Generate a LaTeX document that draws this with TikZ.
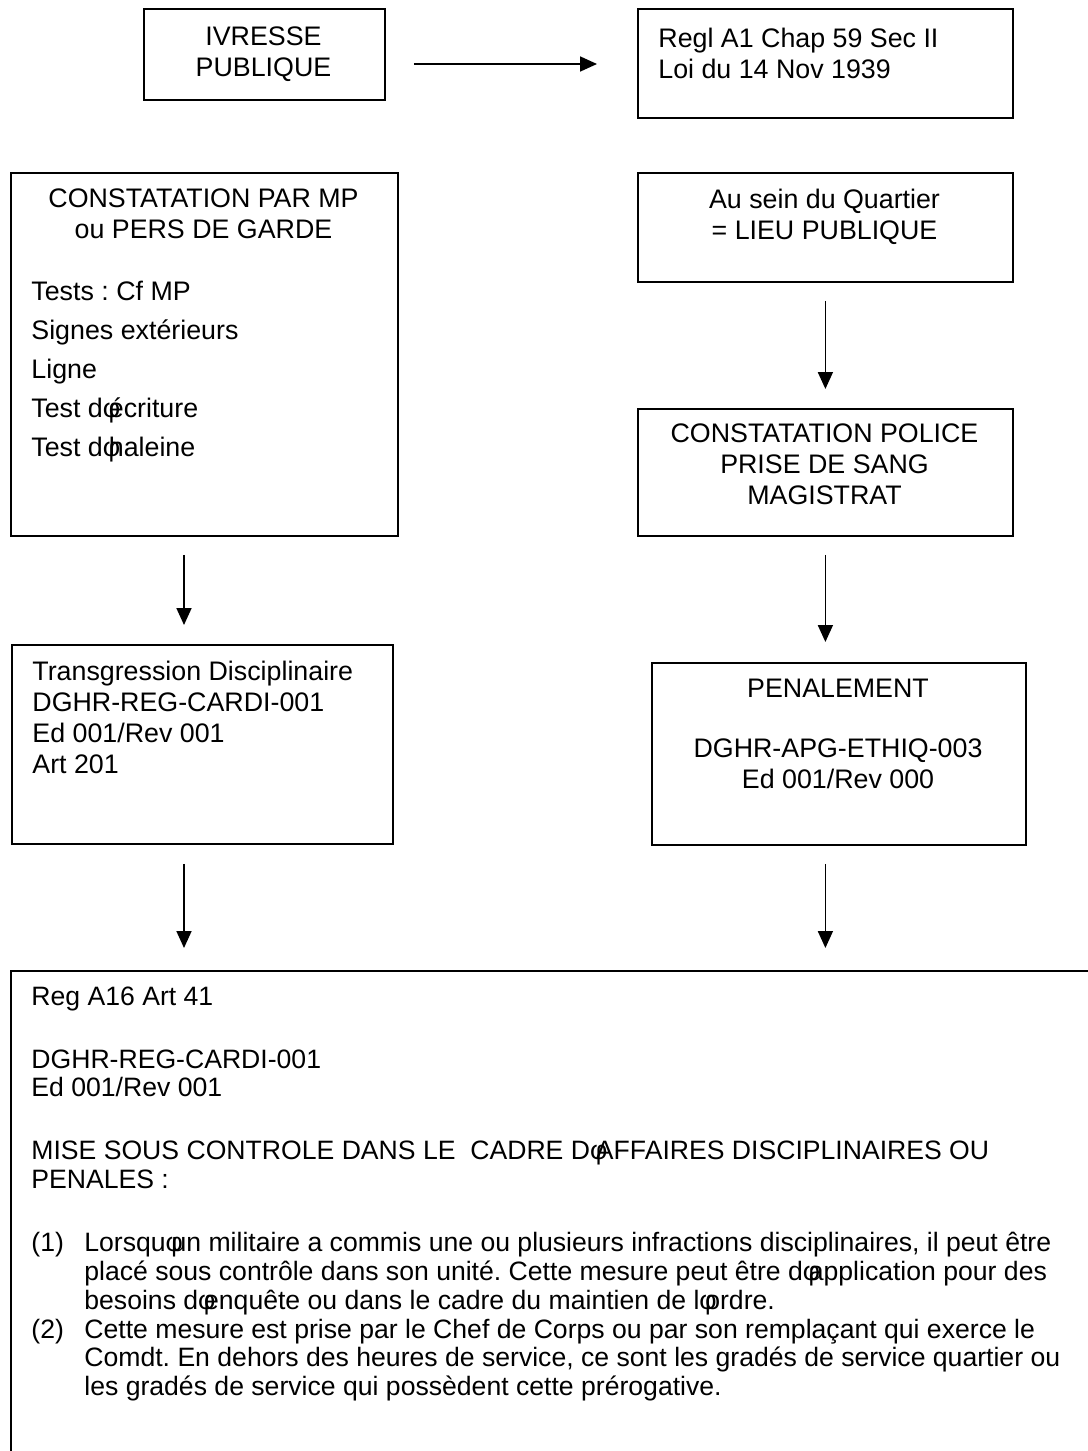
\documentclass[tikz,border=0pt]{standalone}
\usepackage{fontspec}
\setmainfont{Liberation Sans}
\usetikzlibrary{arrows.meta}
\frenchspacing
\newcommand\ap{\makebox[0.222em][l]{φ}}
\newcommand\tightlines{\lineskiplimit=-100pt\relax\lineskip=0pt\relax}
\begin{document}
\frenchspacing
\begin{tikzpicture}[x=0.5pt,y=-0.5pt,
  box/.style={draw, line width=0.9pt, anchor=north west, inner sep=0pt},
  txt/.style={inner sep=0pt, font=\fontsize{13.4}{15.5}\selectfont\frenchspacing},
  arr/.style={line width=0.9pt, -{Triangle[length=8.5pt,width=7.5pt]}}]
\useasboundingbox (0,0) rectangle (1087,1451);
\fill[white] (0,0) rectangle (1087,1451);

% boxes
\node[box, minimum width=120.5pt, minimum height=45.5pt] (ivr) at (143,8) {};
\node[box, minimum width=187.5pt, minimum height=54.5pt] (regl) at (637,8) {};
\node[box, minimum width=193.5pt, minimum height=181.5pt] (cmp) at (10,172) {};
\node[box, minimum width=187.5pt, minimum height=54.5pt] (ausein) at (637,172) {};
\node[box, minimum width=187.5pt, minimum height=63.5pt] (police) at (637,408) {};
\node[box, minimum width=190.5pt, minimum height=99.5pt] (trans) at (11,644) {};
\node[box, minimum width=187pt, minimum height=91pt] (penal) at (651,662) {};
\node[box, minimum width=570pt, minimum height=270pt] (bot) at (10,970) {};

% texts
\node[txt, align=center, anchor=north] (tivr) at (263.5,26.5) {IVRESSE\\PUBLIQUE};
\node[txt, align=left, anchor=north west] (tregl) at (658,27.5) {Regl A1 Chap 59 Sec II\\Loi du 14 Nov 1939};
\node[txt, align=center, anchor=north] (tcmp) at (203.5,188) {CONSTATATION PAR MP\\ou PERS DE GARDE};
\node[txt, align=left, anchor=north west, font=\fontsize{13.4}{19.5}\selectfont\frenchspacing] (tcmpl) at (31,280.5)
  {Tests : Cf MP\\Signes extérieurs\\Ligne\\Test d\ap écriture\\Test d\ap haleine};
\node[txt, align=center, anchor=north] (tausein) at (824.5,188.5) {Au sein du Quartier\\= LIEU PUBLIQUE};
\node[txt, align=center, anchor=north] (tpolice) at (824.5,423.5) {CONSTATATION POLICE\\PRISE DE SANG\\MAGISTRAT};
\node[txt, align=left, anchor=north west] (ttrans) at (32,660.5)
  {Transgression Disciplinaire\\DGHR-REG-CARDI-001\\Ed 001/Rev 001\\Art 201};
\node[txt, align=center, anchor=north] (tpenal) at (838,678.5)
  {PENALEMENT\\[14.5pt]DGHR-APG-ETHIQ-003\\Ed 001/Rev 000};
\node[txt, align=left, anchor=north west,
  font=\fontsize{13.3}{14.35}\selectfont\frenchspacing\tightlines] (tbot) at (31,986.5)
  {Reg A16 Art 41\\[17pt]
   DGHR-REG-CARDI-001\\
   Ed 001/Rev 001\\[17pt]
   MISE SOUS CONTROLE DANS LE~~CADRE D\ap AFFAIRES DISCIPLINAIRES OU\\
   PENALES :\\[17.5pt]
   \makebox[26.5pt][l]{(1)}Lorsqu\ap un militaire a commis une ou plusieurs infractions disciplinaires, il peut être\\
   \hspace*{26.5pt}placé sous contrôle dans son unité. Cette mesure peut être d\ap application pour des\\
   \hspace*{26.5pt}besoins d\ap enquête ou dans le cadre du maintien de l\ap ordre.\\
   \makebox[26.5pt][l]{(2)}Cette mesure est prise par le Chef de Corps ou par son remplaçant qui exerce le\\
   \hspace*{26.5pt}Comdt. En dehors des heures de service, ce sont les gradés de service quartier ou\\
   \hspace*{26.5pt}les gradés de service qui possèdent cette prérogative.};

% connectors
\coordinate (row) at (0,64);
\coordinate (colL) at (184,0);
\draw[arr, shorten <=14pt, shorten >=20pt] (ivr.east |- row) -- (regl.west |- row);
\draw[arr, shorten <=9pt, shorten >=9.5pt] (ausein.south) -- (police.north);
\draw[arr, shorten <=9pt, shorten >=10pt] (police.south) -- (police.south |- penal.north);
\draw[arr, shorten <=9pt, shorten >=9.5pt] (cmp.south -| colL) -- (trans.north -| colL);
\draw[arr, shorten <=9.5pt, shorten >=11pt] (trans.south -| colL) -- (bot.north -| colL);
\draw[arr, shorten <=9pt, shorten >=11pt] (penal.south -| police.south) -- (bot.north -| police.south);
\end{tikzpicture}
\end{document}
